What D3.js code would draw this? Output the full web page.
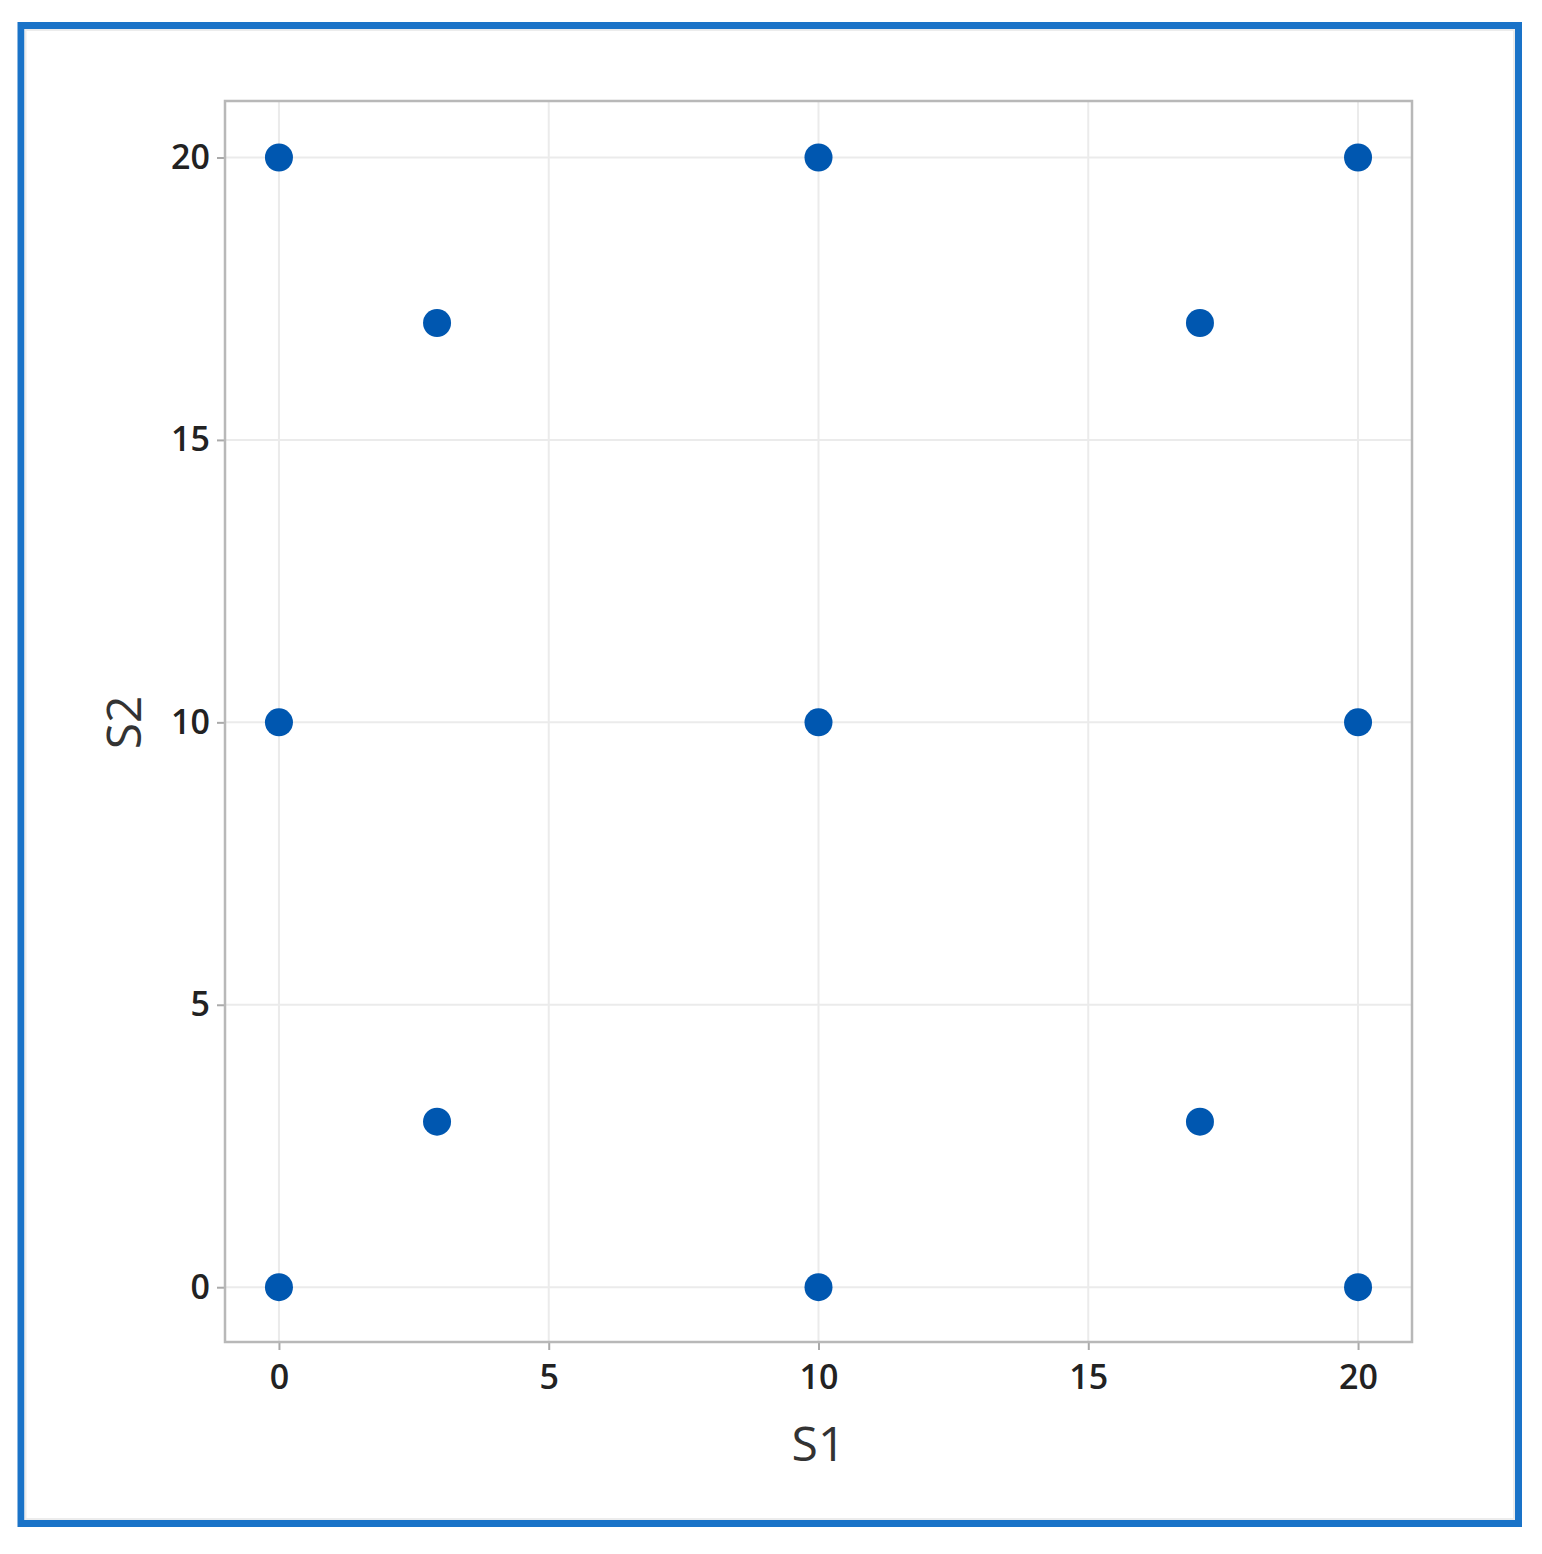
<!DOCTYPE html>
<html>
<head>
<meta charset="utf-8">
<script src="https://cdn.jsdelivr.net/npm/d3@7"></script>
<style>
html,body{margin:0;padding:0;background:#fff;}
svg{display:block;}
</style>
</head>
<body>
<svg id="chart" width="1542" height="1554"></svg>
<script>
const s1Values = [0, 10, 20, 0, 10, 20, 0, 10, 20, 2.93, 17.07, 2.93, 17.07];
const s2Values = [0, 0, 0, 10, 10, 10, 20, 20, 20, 2.93, 2.93, 17.07, 17.07];
const xTicks = [0, 5, 10, 15, 20];
const yTicks = [0, 5, 10, 15, 20];
const xTitle = "S1";
const yTitle = "S2";

const svg = d3.select("#chart");
const plot = {left: 225, top: 101, right: 1412, bottom: 1342};

// outer blue frame
svg.append("rect").attr("x", 21).attr("y", 25.5).attr("width", 1497.5).attr("height", 1498)
  .attr("fill", "#fff").attr("stroke", "#1a73c8").attr("stroke-width", 7);
svg.append("rect").attr("x", 25.5).attr("y", 30).attr("width", 1488.5).attr("height", 1489)
  .attr("fill", "none").attr("stroke", "#ececec").attr("stroke-width", 2);

const x = d3.scaleLinear().domain([-1, 21]).range([plot.left, plot.right]);
const y = d3.scaleLinear().domain([-0.97, 21]).range([plot.bottom, plot.top]);

// gridlines
svg.append("g").selectAll("line").data(xTicks).join("line")
  .attr("x1", d => x(d)).attr("x2", d => x(d))
  .attr("y1", plot.top).attr("y2", plot.bottom)
  .attr("stroke", "#ebebeb").attr("stroke-width", 2);
svg.append("g").selectAll("line").data(yTicks).join("line")
  .attr("y1", d => y(d)).attr("y2", d => y(d))
  .attr("x1", plot.left).attr("x2", plot.right)
  .attr("stroke", "#ebebeb").attr("stroke-width", 2);

// axes
const xAxis = svg.append("g").attr("transform", `translate(0,${plot.bottom})`)
  .call(d3.axisBottom(x).tickValues(xTicks).tickSize(8).tickPadding(15).tickFormat(d3.format("d")));
const yAxis = svg.append("g").attr("transform", `translate(${plot.left},0)`)
  .call(d3.axisLeft(y).tickValues(yTicks).tickSize(8).tickPadding(7).tickFormat(d3.format("d")));
[xAxis, yAxis].forEach(a => {
  a.select(".domain").remove();
  a.selectAll(".tick line").attr("stroke", "#aaa").attr("stroke-width", 2);
  a.selectAll(".tick text").attr("fill", "#222")
    .style("font-family", "'Open Sans', sans-serif").style("font-size", "34px").style("font-weight", 600);
});

// plot frame
svg.append("rect").attr("x", plot.left).attr("y", plot.top)
  .attr("width", plot.right - plot.left).attr("height", plot.bottom - plot.top)
  .attr("fill", "none").attr("stroke", "#b8b8b8").attr("stroke-width", 2.5);

// points
svg.append("g").selectAll("circle").data(s1Values.map((v, i) => [v, s2Values[i]])).join("circle")
  .attr("cx", d => x(d[0])).attr("cy", d => y(d[1])).attr("r", 14)
  .attr("fill", "#0057b0");

// titles
svg.append("text").attr("x", x(10)).attr("y", 1461).attr("text-anchor", "middle")
  .style("font-family", "'Open Sans', sans-serif").style("font-size", "48px").attr("fill", "#333")
  .text(xTitle);
svg.append("text").attr("transform", `translate(141,${y(10)}) rotate(-90)`).attr("text-anchor", "middle")
  .style("font-family", "'Open Sans', sans-serif").style("font-size", "48px").attr("fill", "#333")
  .text(yTitle);
</script>
</body>
</html>
